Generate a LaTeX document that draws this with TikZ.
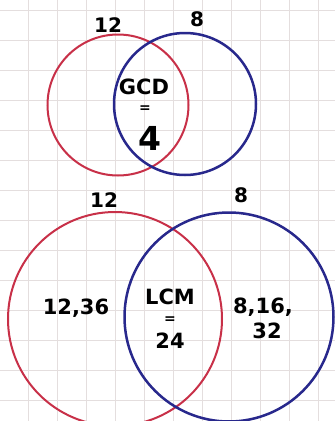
\documentclass[tikz,border=0pt]{standalone}
\usepackage{fontspec}
\setmainfont{DejaVu Sans}
\definecolor{ringred}{RGB}{200,48,72}
\definecolor{ringblue}{RGB}{40,40,140}
\definecolor{paperline}{RGB}{228,222,222}
\begin{document}
\begin{tikzpicture}[
  x=1pt, y=-1pt,
  gridline/.style={draw=paperline, line width=0.9pt},
  ring/.style={circle, draw, inner sep=0pt, outer sep=0pt},
  redring/.style={ring, draw=ringred, line width=2pt},
  bluering/.style={ring, draw=ringblue, line width=2.5pt},
  setlbl/.style={font=\fontsize{20}{20}\selectfont\bfseries, text=black, inner sep=0pt},
  inlbl/.style={font=\fontsize{21}{22}\selectfont\bfseries, text=black, align=center,
    inner sep=0pt, text height=15.3pt, text depth=0pt},
  eqlbl/.style={inlbl, font=\fontsize{14}{14}\selectfont\bfseries, text height=7pt, text depth=-3.2pt},
  biglbl/.style={inlbl, font=\fontsize{33}{33}\selectfont\bfseries, text height=24pt},
]
\useasboundingbox (0,0) rectangle (335,421);
\clip (0,0) rectangle (335,421);
\fill[white] (0,0) rectangle (335,421);

% squared paper
\foreach \gx in {28,57,86,115,144,173,202,231,260,289,318}
  \draw[gridline] (\gx,0) -- (\gx,421);
\foreach \gy in {10,40,70,100,130,160,190,220,250,280,310,340,370,400}
  \draw[gridline] (0,\gy) -- (335,\gy);

% GCD diagram (top)
\node[redring, minimum size=141pt] (gcdA) at (118,105) {};
\node[bluering, minimum size=142pt] (gcdB) at (185,104) {};
\node[setlbl] (gcdAlbl) at (108,25) {12};
\node[setlbl] (gcdBlbl) at (197,19) {8};
\node[inlbl] (gcdWord) at (144,87) {GCD};
\node[eqlbl] (gcdEq) at (145,109) {=};
\node[biglbl] (gcdNum) at (150,138) {4};

% LCM diagram (bottom)
\node[redring, minimum size=214pt] (lcmA) at (115,319) {};
\node[bluering, minimum size=209pt] (lcmB) at (229,317) {};
\node[setlbl] (lcmAlbl) at (104,200) {12};
\node[setlbl] (lcmBlbl) at (241,195) {8};
\node[inlbl] (lcmAonly) at (76,307) {12,36};
\node[inlbl] (lcmWord) at (170,297) {LCM};
\node[eqlbl] (lcmEq) at (170,320) {=};
\node[inlbl] (lcmNum) at (170,341) {24};
\node[inlbl] (lcmBonly) at (263,306) {8,16,};
\node[inlbl] (lcmBmore) at (267,331) {32};

\end{tikzpicture}
\end{document}
